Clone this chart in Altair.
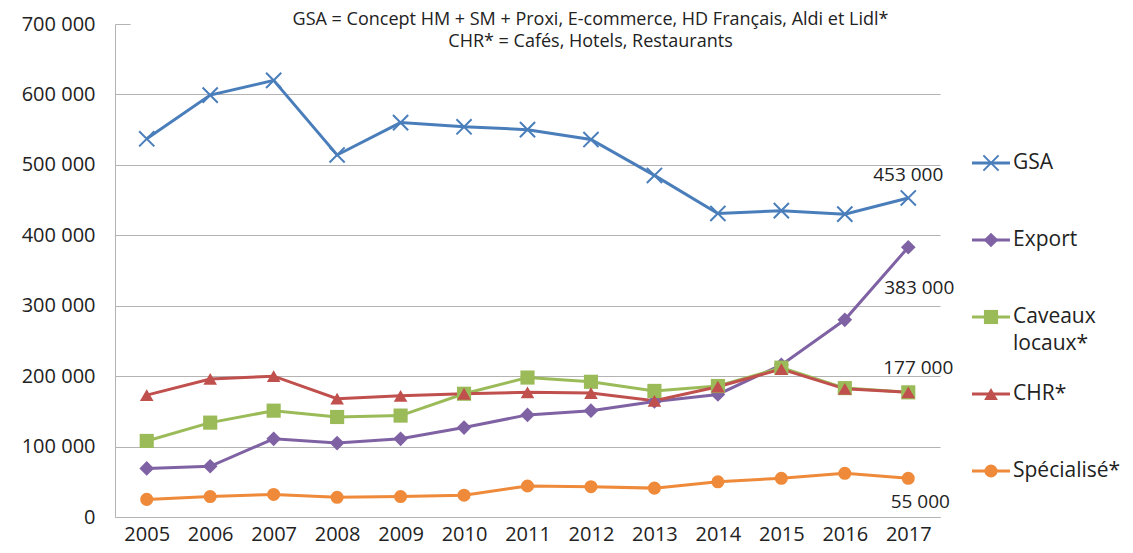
import altair as alt
import pandas as pd

years = [str(y) for y in range(2005, 2018)]
series_names = ["GSA", "Export", "Caveaux locaux*", "CHR*", "Spécialisé*"]

gsa = [537000, 599000, 620000, 514000, 560000, 554000, 550000, 536000, 485000, 431000, 435000, 430000, 453000]
export = [69000, 72000, 111000, 105000, 111000, 127000, 145000, 151000, 164000, 174000, 216000, 280000, 383000]
caveaux = [108000, 134000, 151000, 142000, 144000, 175000, 198000, 192000, 179000, 186000, 212000, 183000, 177000]
chr_ = [173000, 196000, 200000, 168000, 172000, 175000, 177000, 176000, 165000, 185000, 210000, 182000, 177000]
spec = [25000, 29000, 32000, 28000, 29000, 31000, 44000, 43000, 41000, 50000, 55000, 62000, 55000]

colors = ["#4A7EBB", "#7F62A3", "#9BBB59", "#C0504D", "#EE8A3A"]
shapes = ["M-1,-1L1,1M-1,1L1,-1", "diamond", "square", "triangle-up", "circle"]
sizes = [230, 170, 190, 220, 260]

legend_line1 = ["GSA", "Export", "Caveaux", "CHR*", "Spécialisé*"]
legend_line2 = ["", "", "locaux*", "", ""]

label_series = ["GSA", "Export", "CHR*", "Spécialisé*"]
label_text = ["453 000", "383 000", "177 000", "55 000"]
label_dx = [0, 11, 10, 12]
label_dy = [-23, 41, -24, 24]

title_lines = ["GSA = Concept HM + SM + Proxi, E-commerce, HD Français, Aldi et Lidl*",
               "CHR* = Cafés, Hotels, Restaurants"]

FONT = "Open Sans"
TXT = "#222222"
AXC = "#b3b3b3"

rows = []
for name, vals in zip(series_names, [gsa, export, caveaux, chr_, spec]):
    for yr, v in zip(years, vals):
        rows.append({"year": yr, "series": name, "value": v})
df = pd.DataFrame(rows)

leg_df = pd.DataFrame({"series": series_names, "l1": legend_line1, "l2": legend_line2})

color_scale = alt.Scale(domain=series_names, range=colors)
shape_scale = alt.Scale(domain=series_names, range=shapes)
size_scale = alt.Scale(domain=series_names, range=sizes)

col = alt.Color("series:N", scale=color_scale, legend=None)
shp = alt.Shape("series:N", scale=shape_scale, legend=None)
siz = alt.Size("series:N", scale=size_scale, legend=None)

x_enc = alt.X("year:O", scale=alt.Scale(type="point", padding=0.5), title=None,
              axis=alt.Axis(labelAngle=0, ticks=False, grid=False, domainColor=AXC,
                            labelPadding=7, labelFontSize=20, labelColor=TXT, labelFont=FONT))
y_enc = alt.Y("value:Q", scale=alt.Scale(domain=[0, 700000], nice=False), title=None,
              axis=alt.Axis(values=[0, 100000, 200000, 300000, 400000, 500000, 600000, 700000],
                            labelExpr="datum.value == 0 ? '0' : format(datum.value / 1000, 'd') + ' 000'",
                            ticks=False, grid=True, gridColor=AXC, domainColor=AXC,
                            gridDash={"condition": {"test": "datum.value === 700000", "value": [15, 3000]}, "value": []},
                            labelPadding=20, labelFontSize=20, labelColor=TXT, labelFont=FONT))

base = alt.Chart(df).encode(x=x_enc, y=y_enc)

lines = base.mark_line(strokeWidth=3).encode(color=col)
pts_x = base.mark_point(filled=False, strokeWidth=2, opacity=1).encode(
    color=col, shape=shp, size=siz).transform_filter(alt.datum.series == "GSA")
pts_f = base.mark_point(filled=True, opacity=1).encode(
    color=col, shape=shp, size=siz).transform_filter(alt.datum.series != "GSA")

label_layers = []
for s, t, dx, dy in zip(label_series, label_text, label_dx, label_dy):
    label_layers.append(
        base.mark_text(font=FONT, fontSize=19, color=TXT, dx=dx, dy=dy, baseline="middle")
        .encode(text=alt.value(t))
        .transform_filter((alt.datum.series == s) & (alt.datum.year == "2017"))
    )

main = alt.layer(lines, pts_x, pts_f, *label_layers)

ly = alt.Y("series:N", scale=alt.Scale(type="point", domain=series_names, range=[139, 447], padding=0),
           axis=None)
lbase = alt.Chart(leg_df).encode(y=ly)
leg_rule = lbase.mark_rule(strokeWidth=3).encode(x=alt.value(857), x2=alt.value(895), color=col)
leg_px = lbase.mark_point(filled=False, strokeWidth=2, opacity=1).encode(
    x=alt.value(876), color=col, shape=shp, size=siz).transform_filter(alt.datum.series == "GSA")
leg_pf = lbase.mark_point(filled=True, opacity=1).encode(
    x=alt.value(876), color=col, shape=shp, size=siz).transform_filter(alt.datum.series != "GSA")
leg_t1 = lbase.mark_text(align="left", baseline="middle", font=FONT, fontSize=21, color=TXT).encode(
    x=alt.value(898), text="l1:N")
leg_t2 = lbase.mark_text(align="left", baseline="middle", font=FONT, fontSize=21, color=TXT, dy=27).encode(
    x=alt.value(898), text="l2:N")
legend = alt.layer(leg_rule, leg_px, leg_pf, leg_t1, leg_t2)

chart = alt.layer(main, legend).resolve_scale(y="independent").properties(
    width=825, height=493,
    autosize=alt.AutoSizeParams(type="none"),
    padding={"left": 107, "top": 16, "right": 183, "bottom": 28},
    title=alt.TitleParams(title_lines, font=FONT, fontSize=18, fontWeight="normal", color=TXT,
                          anchor="middle", dx=63, offset=-37, lineHeight=22),
).configure_view(stroke=None)

chart.save("out.html", embed_options={"renderer": "svg", "actions": False})
